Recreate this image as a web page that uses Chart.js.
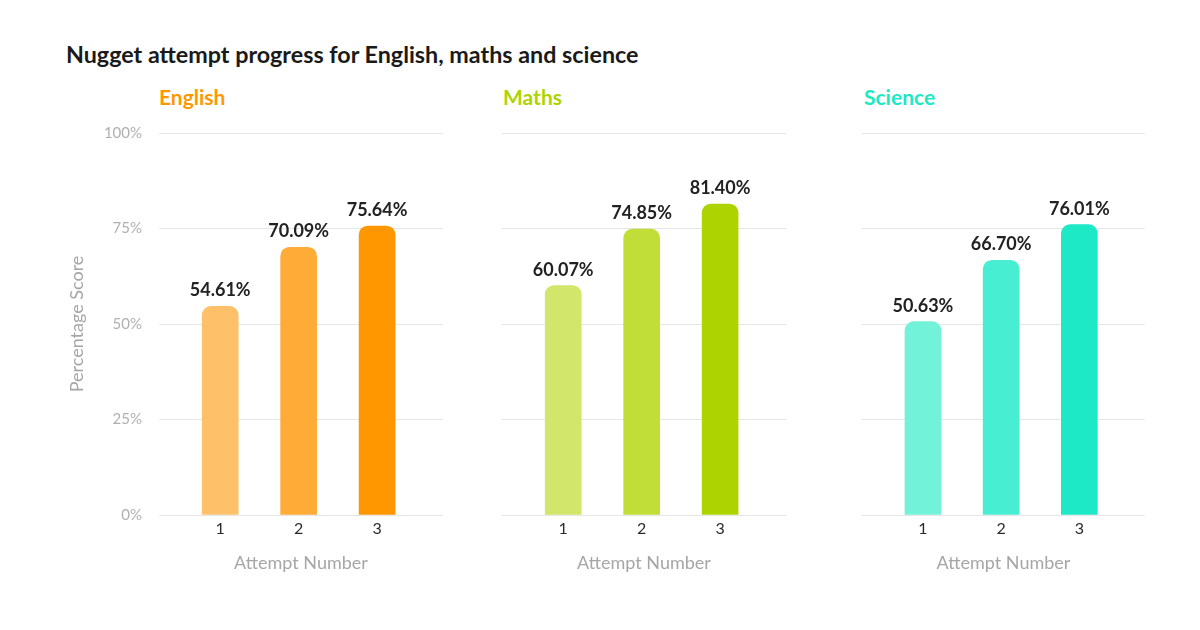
<!DOCTYPE html>
<html>
<head>
<meta charset="utf-8">
<script src="https://cdn.jsdelivr.net/npm/chart.js@4"></script>
<style>
  body { margin: 0; width: 1200px; height: 630px; background: #fff; position: relative; overflow: hidden; font-family: Lato, sans-serif; }
  canvas { position: absolute; top: 0; }
  .title { position: absolute; left: 66px; top: 38px; font-size: 23.3px; font-weight: 700; color: #1a1a1a; line-height: 32px; }
  .head { position: absolute; top: 83px; font-size: 21px; font-weight: 700; line-height: 28px; }
</style>
</head>
<body>
<div class="title">Nugget attempt progress for English, maths and science</div>
<div class="head" style="left:159px;color:#ff9800">English</div>
<div class="head" style="left:503px;color:#aed400">Maths</div>
<div class="head" style="left:864px;color:#1de9c5">Science</div>
<canvas id="english" width="460" height="630" style="left:0px"></canvas>
<canvas id="maths" width="360" height="630" style="left:460px"></canvas>
<canvas id="science" width="380" height="630" style="left:820px"></canvas>
<script>
//data
const attempts = [1, 2, 3];
const english = [54.61, 70.09, 75.64];
const maths = [60.07, 74.85, 81.40];
const science = [50.63, 66.70, 76.01];
const yTicks = [0, 25, 50, 75, 100];

const englishColors = ["#ffc06a", "#ffab38", "#ff9800"];
const mathsColors = ["#d1e66a", "#c1de38", "#aed400"];
const scienceColors = ["#73f2da", "#48eed2", "#1de9c6"];

//value labels above bars
const valueLabels = {
  id: "valueLabels",
  afterDatasetsDraw(chart) {
    const ctx = chart.ctx;
    const meta = chart.getDatasetMeta(0);
    ctx.save();
    ctx.font = "bold 18px Lato";
    ctx.fillStyle = "#222";
    ctx.textAlign = "center";
    ctx.textBaseline = "alphabetic";
    meta.data.forEach((bar, i) => {
      const v = chart.data.datasets[0].data[i].y;
      ctx.fillText(v.toFixed(2) + "%", bar.x, bar.y - 10);
    });
    ctx.restore();
  },
};

function makePanel(id, values, colors, yWidth, padRight, showY) {
  const config = {
    type: "bar",
    data: {
      datasets: [
        {
          data: attempts.map((a, i) => ({ x: a, y: values[i] })),
          backgroundColor: colors,
          barThickness: 36,
          borderRadius: 9,
          borderSkipped: "bottom",
        },
      ],
    },
    options: {
      responsive: false,
      animation: false,
      layout: { padding: { top: 133, right: padRight, bottom: 0, left: 0 } },
      plugins: { legend: { display: false }, tooltip: { enabled: false } },
      scales: {
        x: {
          type: "linear",
          offset: false,
          min: 0.22,
          max: 3.84,
          afterBuildTicks: (s) => { s.ticks = attempts.map((a) => ({ value: a })); },
          afterFit: (s) => { s.height = 115; },
          grid: { display: false, drawTicks: false },
          border: { display: false },
          ticks: { color: "#2b2b2b", font: { family: "Lato", size: 16 }, padding: 4 },
          title: {
            display: true,
            text: "Attempt Number",
            color: "#a6a6a6",
            font: { family: "Lato", size: 18 },
            padding: { top: 0, bottom: 56 },
          },
        },
        y: {
          min: 0,
          max: 100,
          afterBuildTicks: (s) => { s.ticks = yTicks.map((t) => ({ value: t })); },
          afterFit: (s) => { s.width = yWidth; },
          grid: { color: "#e6e6e6", drawTicks: false },
          border: { display: false },
          ticks: {
            display: showY,
            color: "#b0b0b0",
            font: { family: "Lato", size: 15 },
            padding: 17,
            callback: (v) => v + "%",
          },
          title: {
            display: showY,
            text: "Percentage Score",
            color: "#a6a6a6",
            font: { family: "Lato", size: 18 },
            padding: { top: 66, bottom: 0 },
          },
        },
      },
    },
    plugins: [valueLabels],
  };
  return new Chart(document.getElementById(id), config);
}

makePanel("english", english, englishColors, 159, 17, true);
makePanel("maths", maths, mathsColors, 42, 34, false);
makePanel("science", science, scienceColors, 42, 55, false);
</script>
</body>
</html>
